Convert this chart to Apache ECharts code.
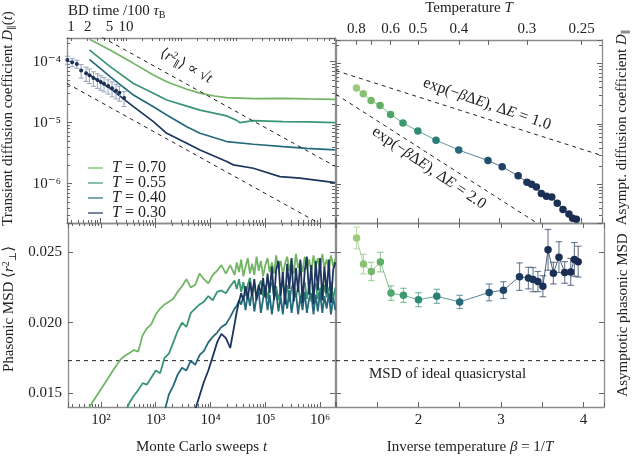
<!DOCTYPE html>
<html>
<head>
<meta charset="utf-8">
<script src="https://cdn.jsdelivr.net/npm/echarts@6/dist/echarts.min.js"></script>
<style>html,body{margin:0;padding:0;background:#fff}#main{width:632px;height:456px}</style>
</head>
<body>
<div id="main"></div>
<script>
var FONT = '"Liberation Serif", "DejaVu Serif", serif';
var TEXT = '#222';

// ---- top left: transient diffusion coefficient D(t) vs Monte Carlo sweeps
var sweeps070 = [64, 152, 404, 933, 1630, 3770, 6580, 12000, 20100, 61400, 215000, 600000, 1870000];
var diff070 = [2.33e-4, 1.56e-4, 9.4e-5, 6.05e-5, 4.7e-5, 3.53e-5, 3.05e-5, 2.74e-5, 2.57e-5, 2.48e-5, 2.5e-5, 2.45e-5, 2.42e-5];
var sweeps055 = [64, 152, 404, 933, 1630, 3770, 6580, 20100, 30000, 35100, 61400, 215000, 600000, 1870000];
var diff055 = [1.56e-4, 8.3e-5, 4.4e-5, 3.05e-5, 2.36e-5, 1.87e-5, 1.61e-5, 1.29e-5, 1.1e-5, 1.0e-5, 1.08e-5, 1.04e-5, 1.03e-5, 1.0e-5];
var sweeps040 = [64, 152, 404, 933, 1630, 3770, 6580, 20100, 61400, 215000, 572000, 1870000];
var diff040 = [1.09e-4, 5.7e-5, 2.84e-5, 1.83e-5, 1.34e-5, 8.6e-6, 6.7e-6, 4.9e-6, 4.43e-6, 4.05e-6, 3.8e-6, 3.57e-6];
var sweeps030 = [64, 152, 404, 933, 1630, 3770, 6580, 20100, 26600, 61400, 187000, 433000, 1870000];
var diff030 = [6.05e-5, 3.66e-5, 1.83e-5, 1.04e-5, 6.7e-6, 4.6e-6, 3.57e-6, 2.3e-6, 2.03e-6, 1.79e-6, 1.3e-6, 1.23e-6, 1.04e-6];

// Brownian dynamics points with error bars
var bdSweeps = [25.4, 31, 37.7, 45.2, 55.6, 64, 75.7, 89.5, 103, 118, 140, 165, 195, 225, 273];
var bdDiff = [1.07e-4, 9.8e-5, 9.2e-5, 7.2e-5, 6.45e-5, 5.98e-5, 5.4e-5, 5.0e-5, 4.65e-5, 4.36e-5, 4.0e-5, 3.66e-5, 3.35e-5, 3.1e-5, 2.54e-5];
var bdErr = [1.6e-5, 1.5e-5, 1.4e-5, 1.8e-5, 1.7e-5, 1.6e-5, 1.45e-5, 1.35e-5, 1.25e-5, 1.15e-5, 1.05e-5, 1.0e-5, 9e-6, 8.5e-6, 7e-6];

// dashed guides, <r^2> ~ sqrt(t)
var sqrtGuideUpper = [[25, 5.25e-4], [1.875e6, 1.93e-6]];
var sqrtGuideLower = [[25, 4.4e-5], [1.875e6, 1.6e-7]];

// ---- bottom left: phasonic MSD vs sweeps
var msdSweeps = [52.5, 63.1, 75.9, 91.2, 110, 132, 158, 191, 229, 275, 331, 398, 479, 575, 692, 832, 1000, 1200, 1450, 1740,
  2090, 2510, 3020, 3630, 4370, 5250, 6310, 7590, 9120, 11000, 13200, 15800, 19100, 22900, 27500,
  30200, 33100, 36300, 39800, 43700, 47900, 52500, 57500, 63100, 69200, 75900, 83200, 91200, 100000, 110000,
  120000, 132000, 145000, 158000, 174000, 191000, 209000, 229000, 251000, 275000, 302000, 331000, 363000, 398000, 437000,
  479000, 525000, 575000, 631000, 692000, 759000, 832000, 912000, 1000000, 1100000, 1200000, 1320000, 1450000, 1580000, 1740000, 1910000];
var msd070 = [0.0136, 0.01407, 0.01455, 0.01503, 0.01551, 0.01599, 0.01647, 0.01695, 0.0174, 0.01765, 0.01785, 0.01805, 0.01795, 0.0191, 0.0196, 0.0199, 0.0206, 0.0210, 0.0213, 0.0215,
  0.0217, 0.0222, 0.0226, 0.0231, 0.0225, 0.0227, 0.0235, 0.0231, 0.0228, 0.0234, 0.0237, 0.0241, 0.0235, 0.0241, 0.0234,
  0.0243, 0.0236, 0.0245, 0.0233, 0.0240, 0.0246, 0.0235, 0.0242, 0.0234, 0.0247, 0.0237, 0.0244, 0.0233, 0.0241, 0.0246,
  0.0236, 0.0243, 0.0235, 0.0248, 0.0238, 0.0244, 0.0234, 0.0242, 0.0247, 0.0237, 0.0245, 0.0235, 0.0249, 0.0239, 0.0244,
  0.0236, 0.0247, 0.0238, 0.0245, 0.0236, 0.0248, 0.0240, 0.0246, 0.0237, 0.0249, 0.0239, 0.0245, 0.0238, 0.0248, 0.0240, 0.0246];
var msd055 = [null, null, null, null, null, null, null, null, null, 0.0136, 0.0143, 0.0148, 0.0152, 0.0157, 0.0156, 0.0161, 0.0166, 0.0164, 0.0175, 0.0178,
  0.0186, 0.0194, 0.0200, 0.0197, 0.0207, 0.0210, 0.0213, 0.0215, 0.0219, 0.0216, 0.0222, 0.0223, 0.0221, 0.0226, 0.0230,
  0.0224, 0.0231, 0.0222, 0.0229, 0.0219, 0.0227, 0.0232, 0.0221, 0.0228, 0.0218, 0.0226, 0.0230, 0.0219, 0.0227, 0.0217,
  0.0225, 0.0229, 0.0218, 0.0226, 0.0216, 0.0224, 0.0229, 0.0217, 0.0227, 0.0215, 0.0225, 0.0228, 0.0218, 0.0226, 0.0216,
  0.0224, 0.0229, 0.0217, 0.0226, 0.0215, 0.0224, 0.0228, 0.0217, 0.0225, 0.0216, 0.0227, 0.0218, 0.0224, 0.0229, 0.0217, 0.0225];
var msd040 = [null, null, null, null, null, null, null, null, null, null, null, null, null, null, null, null, null, null, 0.0137, 0.0149,
  0.0155, 0.0163, 0.0168, 0.0166, 0.0173, 0.0170, 0.0177, 0.0180, 0.0186, 0.0190, 0.0193, 0.0197, 0.0199, 0.0204, 0.0210,
  0.0212, 0.0216, 0.0213, 0.0219, 0.0209, 0.0221, 0.0212, 0.0223, 0.0208, 0.0218, 0.0222, 0.0207, 0.0217, 0.0223, 0.0209,
  0.0220, 0.0206, 0.0218, 0.0222, 0.0208, 0.0219, 0.0206, 0.0221, 0.0210, 0.0223, 0.0207, 0.0218, 0.0221, 0.0206, 0.0219,
  0.0209, 0.0222, 0.0207, 0.0217, 0.0221, 0.0206, 0.0220, 0.0208, 0.0222, 0.0207, 0.0219, 0.0210, 0.0221, 0.0206, 0.0218, 0.0209];
var msd030 = [null, null, null, null, null, null, null, null, null, null, null, null, null, null, null, null, null, null, null, null,
  null, null, null, null, null, 0.0138, 0.0148, 0.0158, 0.0166, 0.0176, 0.0186, 0.0192, 0.0189, 0.0182, 0.0199,
  0.0208, 0.0215, 0.0221, 0.0216, 0.0226, 0.0217, 0.0229, 0.0219, 0.0231, 0.0216, 0.0227, 0.0220, 0.0232, 0.0218, 0.0235,
  0.0221, 0.0240, 0.0216, 0.0238, 0.0244, 0.0219, 0.0236, 0.0213, 0.0242, 0.0224, 0.0246, 0.0215, 0.0239, 0.0222, 0.0245,
  0.0214, 0.0237, 0.0247, 0.0220, 0.0241, 0.0213, 0.0244, 0.0223, 0.0246, 0.0216, 0.0240, 0.0221, 0.0245, 0.0214, 0.0238, 0.0243];
var msdIdeal = 0.0173;

// ---- right panels: asymptotic values per temperature
var temps = [0.8, 0.75, 0.7, 0.65, 0.6, 0.55, 0.5, 0.45, 0.4, 0.35, 0.33, 0.31, 0.3, 0.295, 0.29, 0.285, 0.28, 0.275, 0.27, 0.265, 0.26, 0.257, 0.254];
var asymDiff = [3.9e-5, 3.15e-5, 2.42e-5, 2.0e-5, 1.43e-5, 1.03e-5, 7.6e-6, 5.35e-6, 3.66e-6, 2.45e-6, 1.93e-6, 1.37e-6,
  1.07e-6, 9.9e-7, 8.9e-7, 6.97e-7, 6.3e-7, 6.1e-7, 4.8e-7, 3.8e-7, 3.2e-7, 2.7e-7, 2.6e-7];
var asymMsd = [0.02603, 0.02418, 0.02365, 0.02432, 0.02211, 0.02195, 0.02164, 0.02188, 0.02148, 0.02216, 0.02232, 0.02328,
  0.02318, 0.02307, 0.02293, 0.0226, 0.02519, 0.02353, 0.02467, 0.02358, 0.02362, 0.02451, 0.02435];
var asymMsdErr = [0.00077, 0.0007, 0.00065, 0.0007, 0.00052, 0.0005, 0.0005, 0.0005, 0.00047, 0.0006, 0.0006, 0.00098,
  0.00077, 0.00086, 0.00072, 0.00075, 0.00145, 0.00077, 0.0011, 0.00077, 0.00096, 0.0012, 0.0011];
var activationGuide1 = [[1.0, 7.6e-5], [4.25, 2.96e-6]];
var activationGuide2 = [[1.0, 3.07e-5], [4.25, 4.6e-8]];

// ---- axis ranges and tick labels
var xMin = 25, xMax = 1.875e6;
var dMin = 2.26e-7, dMax = 2.45e-4;
var msdMin = 0.014, msdMax = 0.0271;
var msdTicks = [0.015, 0.020, 0.025];
var betaMin = 1.0, betaMax = 4.25;
var sweepsPerBD = 29.7;
var bdLabels = [1, 2, 5, 10];
var tempLabels = [0.8, 0.6, 0.5, 0.4, 0.3, 0.25];
var tempTicks = [0.8, 0.7, 0.6, 0.5, 0.4, 0.35, 0.3, 0.25];

var colors = {'0.70': '#72b565', '0.55': '#3a9670', '0.40': '#256a7a', '0.30': '#1c355c'};
var palette = ['#9ccb7c', '#66b064', '#40a06c', '#2f8c74', '#297c78', '#256a7a', '#21576f', '#1f4667', '#1c385d', '#1b3056', '#1b2d52', '#1a2c50'];

var RICH = {
  i: {fontStyle: 'italic', fontFamily: FONT, fontSize: 15, color: TEXT},
  sub: {fontFamily: FONT, fontSize: 10, color: TEXT, padding: [7, 0, 0, 0]},
  sup: {fontFamily: FONT, fontSize: 10, color: TEXT, padding: [0, 0, 7, 0]}
};

var SUP = {'-': '⁻', '0': '⁰', '1': '¹', '2': '²', '3': '³', '4': '⁴', '5': '⁵', '6': '⁶', '7': '⁷', '8': '⁸', '9': '⁹'};
function pow10Label(v) {
  var e = String(Math.round(Math.log10(v)));
  return '10' + e.split('').map(function (c) { return SUP[c]; }).join('');
}

function zip(xs, ys) {
  return xs.map(function (x, i) { return [x, ys[i]]; });
}

function mk(opts) {
  var a = {
    axisLine: {show: true, onZero: false, lineStyle: {color: '#8c8c8c', width: 1.3}},
    axisTick: {show: true, inside: true, length: 5, lineStyle: {color: '#666', width: 1}},
    axisLabel: {show: false, color: TEXT, fontFamily: FONT, fontSize: 15, margin: 6},
    splitLine: {show: false},
    nameTextStyle: {color: TEXT, fontFamily: FONT, fontSize: 15, rich: RICH}
  };
  Object.keys(opts).forEach(function (k) {
    if (a[k] && typeof opts[k] === 'object' && !Array.isArray(opts[k])) {
      a[k] = Object.assign({}, a[k], opts[k]);
    } else {
      a[k] = opts[k];
    }
  });
  return a;
}

// log axes get small ticks at 2..9 x 10^n
var logMinor = {show: true, splitNumber: 9, length: 3, lineStyle: {color: '#666', width: 1}};

function errorBars(cap, width, alpha) {
  return function (params, api) {
    var x = api.value(0), y = api.value(1), e = api.value(2);
    var hi = api.coord([x, y + e]);
    var lo = api.coord([x, y - e]);
    var style = {stroke: api.visual('color'), lineWidth: width, opacity: alpha};
    return {
      type: 'group',
      children: [
        {type: 'line', shape: {x1: hi[0], y1: hi[1], x2: lo[0], y2: lo[1]}, style: style},
        {type: 'line', shape: {x1: hi[0] - cap, y1: hi[1], x2: hi[0] + cap, y2: hi[1]}, style: style},
        {type: 'line', shape: {x1: lo[0] - cap, y1: lo[1], x2: lo[0] + cap, y2: lo[1]}, style: style}
      ]
    };
  };
}

// ticks of the BD time axis (log10 units)
var bdTicks = [];
[1, 10, 100, 1000, 10000].forEach(function (d) {
  for (var k = 1; k < 10; k++) {
    var v = Math.log10(k * d);
    if (v <= Math.log10(xMax / sweepsPerBD)) bdTicks.push(v);
  }
});

var dashed = {type: [4, 4], color: '#222', width: 1};
var series = [];

// top left
[['0.70', sweeps070, diff070], ['0.55', sweeps055, diff055], ['0.40', sweeps040, diff040], ['0.30', sweeps030, diff030]].forEach(function (s) {
  series.push({
    type: 'line', name: 'T = ' + s[0], xAxisIndex: 0, yAxisIndex: 0,
    data: zip(s[1], s[2]), symbol: 'none', showSymbol: false,
    lineStyle: {width: 1.7, color: colors[s[0]]}, itemStyle: {color: colors[s[0]]}
  });
});
series.push({
  type: 'custom', xAxisIndex: 0, yAxisIndex: 0, encode: {x: 0, y: 1},
  data: bdSweeps.map(function (t, i) { return [t, bdDiff[i], bdErr[i]]; }),
  itemStyle: {color: '#8c9cb6'}, renderItem: errorBars(2.5, 1.1, 0.85), z: 4
});
series.push({
  type: 'scatter', xAxisIndex: 0, yAxisIndex: 0, data: zip(bdSweeps, bdDiff),
  symbolSize: 4, itemStyle: {color: '#1c2f55', opacity: 1}, z: 5
});
[sqrtGuideUpper, sqrtGuideLower].forEach(function (g) {
  series.push({type: 'line', xAxisIndex: 0, yAxisIndex: 0, data: g, symbol: 'none', lineStyle: dashed, silent: true});
});

// top right
var iTR = series.length;
series.push({
  type: 'line', xAxisIndex: 2, yAxisIndex: 2,
  data: temps.map(function (T, i) { return [1 / T, asymDiff[i]]; }),
  symbol: 'circle', symbolSize: 7.5, lineStyle: {width: 1, opacity: 0.75}, z: 4
});
[activationGuide1, activationGuide2].forEach(function (g) {
  series.push({type: 'line', xAxisIndex: 2, yAxisIndex: 2, data: g, symbol: 'none', lineStyle: dashed, silent: true});
});

// bottom left
series.push({type: 'line', xAxisIndex: 4, yAxisIndex: 4, data: [[xMin, msdIdeal], [xMax, msdIdeal]], symbol: 'none', lineStyle: dashed, silent: true});
[['0.70', msd070], ['0.55', msd055], ['0.40', msd040], ['0.30', msd030]].forEach(function (s) {
  series.push({
    type: 'line', name: 'T = ' + s[0], xAxisIndex: 4, yAxisIndex: 4,
    data: zip(msdSweeps, s[1]), symbol: 'none', showSymbol: false,
    lineStyle: {width: 1.8, color: colors[s[0]]}, itemStyle: {color: colors[s[0]]}
  });
});

// bottom right
series.push({type: 'line', xAxisIndex: 6, yAxisIndex: 6, data: [[betaMin, msdIdeal], [betaMax, msdIdeal]], symbol: 'none', lineStyle: dashed, silent: true});
var iBRerr = series.length;
series.push({
  type: 'custom', xAxisIndex: 6, yAxisIndex: 6, encode: {x: 0, y: 1},
  data: temps.map(function (T, i) { return [1 / T, asymMsd[i], asymMsdErr[i]]; }),
  renderItem: errorBars(3.3, 1.2, 0.6), z: 3
});
var iBR = series.length;
series.push({
  type: 'line', xAxisIndex: 6, yAxisIndex: 6,
  data: temps.map(function (T, i) { return [1 / T, asymMsd[i]]; }),
  symbol: 'circle', symbolSize: 7.5, lineStyle: {width: 1, opacity: 0.75}, z: 4
});

var option = {
  animation: false,
  backgroundColor: '#fff',
  grid: [
    {left: 67, top: 38, width: 268, height: 185},
    {left: 336, top: 38, width: 269, height: 185},
    {left: 67, top: 223, width: 268, height: 187},
    {left: 336, top: 223, width: 269, height: 187}
  ],
  xAxis: [
    mk({gridIndex: 0, type: 'log', logBase: 10, min: xMin, max: xMax, position: 'bottom', minorTick: logMinor}),
    mk({gridIndex: 0, type: 'value', position: 'top',
      min: Math.log10(xMin / sweepsPerBD), max: Math.log10(xMax / sweepsPerBD),
      axisTick: {customValues: bdTicks, length: 3},
      axisLabel: {show: true, margin: 3, customValues: bdLabels.map(Math.log10),
        formatter: function (v) { return String(Math.round(Math.pow(10, v))); }}}),
    mk({gridIndex: 1, type: 'value', min: betaMin, max: betaMax, interval: 0.5, position: 'bottom'}),
    mk({gridIndex: 1, type: 'value', position: 'top', min: betaMin, max: betaMax,
      axisTick: {customValues: tempTicks.map(function (T) { return 1 / T; })},
      axisLabel: {show: true, margin: 3, customValues: tempLabels.map(function (T) { return 1 / T; }),
        formatter: function (v) { return String(parseFloat((1 / v).toFixed(2))); }},
      name: 'Temperature {i|T}', nameLocation: 'middle', nameGap: 24}),
    mk({gridIndex: 2, type: 'log', logBase: 10, min: xMin, max: xMax, position: 'bottom', minorTick: logMinor,
      axisLabel: {show: true, formatter: pow10Label, showMinLabel: false, showMaxLabel: false},
      name: 'Monte Carlo sweeps {i|t}', nameLocation: 'middle', nameGap: 33}),
    mk({gridIndex: 2, type: 'log', logBase: 10, min: xMin, max: xMax, position: 'top', minorTick: logMinor}),
    mk({gridIndex: 3, type: 'value', min: betaMin, max: betaMax, interval: 0.5, position: 'bottom',
      axisLabel: {show: true, formatter: function (v) { return (v % 1 === 0 && v >= 2) ? String(v) : ''; }},
      name: 'Inverse temperature {i|β} = 1/{i|T}', nameLocation: 'middle', nameGap: 33}),
    mk({gridIndex: 3, type: 'value', min: betaMin, max: betaMax, interval: 0.5, position: 'top'})
  ],
  yAxis: [
    mk({gridIndex: 0, type: 'log', logBase: 10, min: dMin, max: dMax, position: 'left', minorTick: logMinor,
      axisLabel: {show: true, formatter: pow10Label, showMinLabel: false, showMaxLabel: false},
      name: 'Transient diffusion coefficient {i|D}{sub|∥}({i|t})', nameLocation: 'middle', nameGap: 50, nameRotate: 90,
      nameTextStyle: {padding: [0, 0, 0, 24]}}),
    mk({gridIndex: 0, type: 'log', logBase: 10, min: dMin, max: dMax, position: 'right', minorTick: logMinor}),
    mk({gridIndex: 1, type: 'log', logBase: 10, min: dMin, max: dMax, position: 'left', minorTick: logMinor}),
    mk({gridIndex: 1, type: 'log', logBase: 10, min: dMin, max: dMax, position: 'right', minorTick: logMinor,
      name: 'Asympt. diffusion coefficient {i|D}{sub|∥}', nameLocation: 'middle', nameGap: 12, nameRotate: 90,
      nameTextStyle: {padding: [0, 0, 0, 8]}}),
    mk({gridIndex: 2, type: 'value', min: msdMin, max: msdMax, position: 'left',
      axisTick: {customValues: msdTicks},
      axisLabel: {show: true, customValues: msdTicks, formatter: function (v) { return v.toFixed(3); }},
      name: 'Phasonic MSD ⟨{i|r}{sup|2}{sub|⊥}⟩', nameLocation: 'middle', nameGap: 50, nameRotate: 90,
      nameTextStyle: {padding: [0, 0, 0, 12]}}),
    mk({gridIndex: 2, type: 'value', min: msdMin, max: msdMax, position: 'right', axisTick: {customValues: msdTicks}}),
    mk({gridIndex: 3, type: 'value', min: msdMin, max: msdMax, position: 'left', axisTick: {customValues: msdTicks}}),
    mk({gridIndex: 3, type: 'value', min: msdMin, max: msdMax, position: 'right', axisTick: {customValues: msdTicks},
      name: 'Asymptotic phasonic MSD', nameLocation: 'middle', nameGap: 12, nameRotate: 90})
  ],
  visualMap: {
    type: 'continuous', show: false, dimension: 0, min: 1.25, max: 4.0,
    seriesIndex: [iTR, iBRerr, iBR], inRange: {color: palette}
  },
  legend: {
    data: ['T = 0.70', 'T = 0.55', 'T = 0.40', 'T = 0.30'],
    orient: 'vertical', left: 83, top: 155, itemWidth: 15, itemHeight: 2, itemGap: -1,
    icon: 'rect', itemStyle: {opacity: 0.6},
    formatter: function (n) { return '{i|T}' + n.slice(1); },
    textStyle: {fontFamily: FONT, fontSize: 16, color: TEXT, lineHeight: 15, padding: [0, 0, 0, 4],
      rich: {i: {fontStyle: 'italic', fontFamily: FONT, fontSize: 16, color: TEXT, lineHeight: 15}}}
  },
  graphic: [
    {type: 'text', left: 68, top: 4, style: {text: 'BD time /100 {i|τ}{sub|B}', fontFamily: FONT, fontSize: 15, fill: TEXT, rich: RICH}},
    {type: 'text', x: 186, y: 66, rotation: -0.5,
      style: {text: '⟨{i|r}{sup|2}{sub|∥}⟩ ∝ √{i|t}', align: 'center', verticalAlign: 'middle', fontFamily: FONT, fontSize: 15, fill: TEXT, rich: RICH}},
    {type: 'text', x: 487, y: 104, rotation: -0.33,
      style: {text: 'exp(−{i|β}Δ{i|E}), Δ{i|E} = 1.0', align: 'center', verticalAlign: 'middle', fontFamily: FONT, fontSize: 16, fill: TEXT, rich: RICH}},
    {type: 'text', x: 429, y: 168, rotation: -0.6,
      style: {text: 'exp(−{i|β}Δ{i|E}), Δ{i|E} = 2.0', align: 'center', verticalAlign: 'middle', fontFamily: FONT, fontSize: 16, fill: TEXT, rich: RICH}},
    {type: 'text', x: 369, y: 374,
      style: {text: 'MSD of ideal quasicrystal', verticalAlign: 'middle', fontFamily: FONT, fontSize: 15, fill: TEXT}}
  ],
  series: series
};

var chart = echarts.init(document.getElementById('main'));
chart.setOption(option);
</script>
</body>
</html>
